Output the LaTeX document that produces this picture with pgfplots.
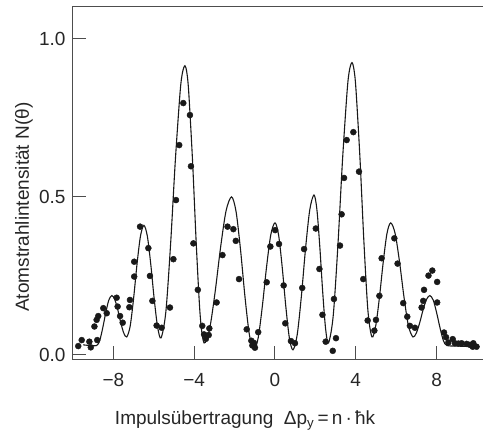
\documentclass[border=0pt]{standalone}
\usepackage{fontspec}
\setmainfont{Liberation Sans}
\usepackage{pgfplots}
\pgfplotsset{compat=1.18}
\definecolor{axc}{HTML}{4D4D4D}
\definecolor{txc}{HTML}{262626}
\begin{document}
\fontsize{19}{23}\selectfont
\begin{tikzpicture}
\begin{axis}[name=ax, scale only axis, width=411pt, height=353pt,
  xmin=-10.05, xmax=10.3, ymin=-0.016, ymax=1.101,
  axis x line*=box, axis y line*=left,
  xtick={-8,-4,0,4,8}, xticklabels={−8,−4,0,4,8},
  ytick={0,0.5,1}, yticklabels={0.0,0.5,1.0},
  tick align=inside, major tick length=14pt,
  xtick pos=left, ytick pos=left,
  axis line style={axc, line width=1pt},
  tick style={axc, line width=1pt},
  tick label style={font=\fontsize{19}{23}\selectfont, text=txc},
  xticklabel style={yshift=-7pt},
  label style={font=\fontsize{19}{23}\selectfont, text=txc},
  xlabel={Impulsübertragung\ \ Δp\textsubscript{y}\,=\,n\,·\,ħk},
  ylabel={Atomstrahlintensität N(θ)},
  xlabel style={at={(axis description cs:0.421,-0.184)}, anchor=base},
  ylabel style={at={(axis description cs:-0.117,0.433)}, anchor=center},
]
\addplot[smooth, line width=1.1pt, black!90, no markers] coordinates {
(-9.5,0.032) (-9.2,0.030) (-8.83,0.030) (-8.68,0.045) (-8.53,0.085) (-8.38,0.133) (-8.23,0.173) (-8.08,0.188) (-7.932,0.1755) (-7.784,0.143) (-7.636,0.102) (-7.488,0.0695) (-7.34,0.057) (-7.17,0.091) (-7.0,0.179) (-6.83,0.288) (-6.66,0.376) (-6.49,0.41) (-6.32,0.376) (-6.15,0.287) (-5.98,0.177) (-5.81,0.088) (-5.64,0.054) (-5.404,0.136) (-5.168,0.351) (-4.932,0.617) (-4.696,0.833) (-4.578,0.894) (-4.46,0.915) (-4.365,0.894) (-4.27,0.831) (-4.08,0.612) (-3.89,0.341) (-3.70,0.122) (-3.51,0.038) (-3.238,0.082) (-2.966,0.198) (-2.694,0.340) (-2.422,0.456) (-2.15,0.50) (-1.928,0.454) (-1.706,0.333) (-1.484,0.183) (-1.262,0.062) (-1.04,0.016) (-0.832,0.054) (-0.624,0.155) (-0.416,0.279) (-0.208,0.380) (0,0.418) (0.178,0.380) (0.356,0.279) (0.534,0.155) (0.712,0.054) (0.89,0.016) (1.098,0.063) (1.306,0.185) (1.514,0.337) (1.722,0.459) (1.93,0.506) (2.074,0.461) (2.218,0.344) (2.362,0.200) (2.506,0.083) (2.65,0.038) (2.882,0.123) (3.114,0.345) (3.346,0.619) (3.578,0.840) (3.694,0.903) (3.81,0.925) (3.909,0.904) (4.008,0.842) (4.206,0.625) (4.404,0.357) (4.602,0.140) (4.80,0.057) (4.986,0.0915) (5.172,0.182) (5.358,0.293) (5.544,0.384) (5.73,0.418) (5.95,0.384) (6.17,0.293) (6.39,0.182) (6.61,0.0915) (6.83,0.057) (6.998,0.0695) (7.166,0.102) (7.334,0.143) (7.502,0.1755) (7.67,0.188) (7.838,0.173) (8.006,0.133) (8.174,0.085) (8.342,0.045) (8.51,0.030) (9.0,0.028) (9.5,0.027) (10.0,0.025)
};
\addplot[only marks, mark=*, mark size=3pt, black!90] coordinates {
(-9.74,0.028) (-9.57,0.047) (-9.19,0.042) (-9.12,0.024) (-8.94,0.090) (-8.83,0.111) (-8.80,0.047) (-8.75,0.123) (-8.50,0.148) (-8.33,0.132) (-7.84,0.181) (-7.79,0.153) (-7.67,0.123) (-7.54,0.102) (-7.21,0.151) (-7.18,0.174) (-6.97,0.248) (-6.97,0.295) (-6.68,0.406) (-6.27,0.338) (-6.19,0.250) (-6.07,0.171) (-5.86,0.093) (-5.61,0.086) (-5.20,0.150) (-5.03,0.303) (-4.90,0.490) (-4.74,0.664) (-4.54,0.797) (-4.21,0.759) (-4.16,0.597) (-4.04,0.353) (-3.82,0.206) (-3.60,0.092) (-3.51,0.065) (-3.42,0.051) (-3.28,0.063) (-3.25,0.084) (-2.89,0.166) (-2.60,0.316) (-2.35,0.406) (-2.06,0.398) (-1.94,0.361) (-1.78,0.240) (-1.40,0.081) (-1.17,0.045) (-1.12,0.030) (-1.04,0.038) (-0.99,0.023) (-0.83,0.072) (-0.41,0.230) (-0.23,0.343) (0.01,0.395) (0.20,0.351) (0.43,0.220) (0.51,0.100) (0.79,0.044) (0.99,0.037) (1.35,0.212) (1.44,0.335) (2.02,0.400) (2.20,0.272) (2.35,0.127) (2.51,0.042) (2.86,0.013) (2.92,0.177) (3.02,0.053) (3.22,0.346) (3.30,0.445) (3.42,0.560) (3.55,0.680) (3.88,0.705) (4.16,0.580) (4.37,0.240) (4.59,0.109) (4.92,0.077) (5.00,0.111) (5.17,0.187) (5.28,0.306) (5.91,0.369) (6.07,0.289) (6.35,0.164) (6.55,0.121) (6.68,0.092) (6.93,0.086) (7.26,0.150) (7.34,0.171) (7.38,0.206) (7.60,0.251) (7.79,0.267) (8.03,0.231) (8.03,0.166) (8.37,0.071) (8.47,0.056) (8.58,0.039) (8.80,0.050) (8.91,0.037) (9.08,0.036) (9.24,0.037) (9.49,0.035) (9.65,0.032) (9.79,0.026) (9.82,0.037) (9.98,0.026)
};
\end{axis}
\pgfresetboundingbox
\path ([shift={(-72pt,-75pt)}]ax.south west) rectangle ([shift={(0pt,7pt)}]ax.north east);
\end{tikzpicture}
\end{document}
